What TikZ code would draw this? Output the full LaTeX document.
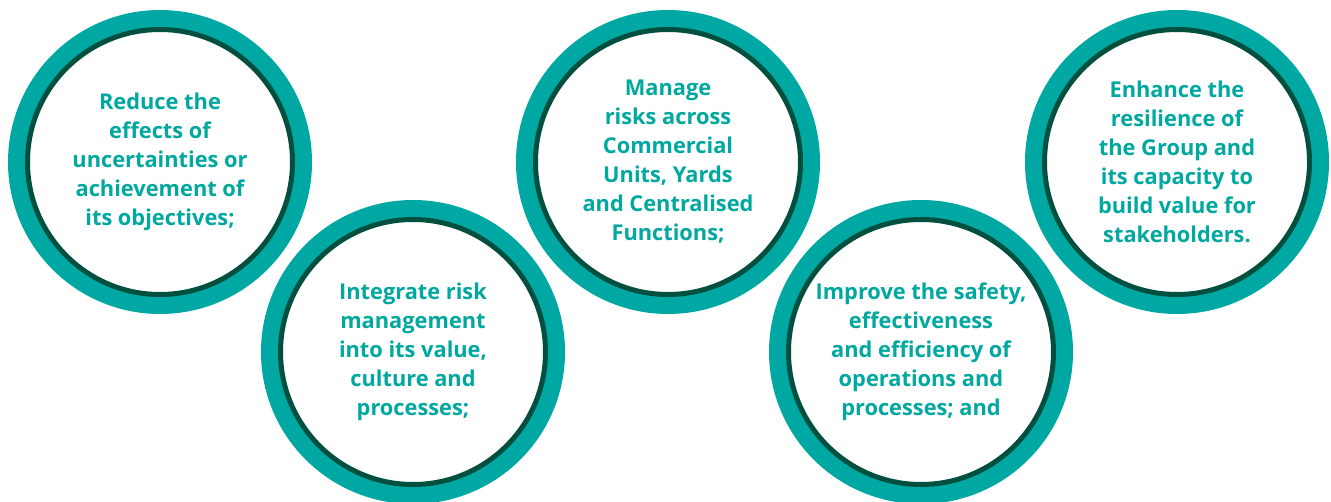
\documentclass[tikz,border=0pt]{standalone}
\usepackage{fontspec}
\setmainfont{Open Sans}
\usepackage{tikz}
\definecolor{ringteal}{HTML}{00A8A3}
\definecolor{ringdark}{HTML}{004F3F}
\definecolor{txtteal}{HTML}{00A89F}

\begin{document}
\begin{tikzpicture}[
                x=1pt, y=-1pt,
                ring/.style={circle, fill=white, draw=ringdark, line width=5pt,
                    preaction={draw=ringteal, line width=39pt},
                    minimum size=265pt, inner sep=0pt, align=center,
                    text=txtteal, font=\bfseries\fontsize{21.8}{29}\selectfont}
            ]
            \useasboundingbox (0,0) rectangle (1331,502);
            \node[ring] (reduce) at (160,162) {Reduce the\\effects of\\uncertainties or\\achievement of\\its objectives;};
            \node[ring] (integrate) at (413,352) {Integrate risk\\management\\into its value,\\culture and\\processes;};
            \node[ring] (manage) at (668,162) {Manage\\risks across\\Commercial\\Units, Yards\\and Centralised\\Functions;};
            \node[ring] (improve) at (921,352) {Improve the safety,\\effectiveness\\and efficiency of\\operations and\\processes; and};
            \node[ring] (enhance) at (1177,162) {Enhance the\\resilience of\\the Group and\\its capacity to\\build value for\\stakeholders.};
            \end{tikzpicture}
\end{document}
